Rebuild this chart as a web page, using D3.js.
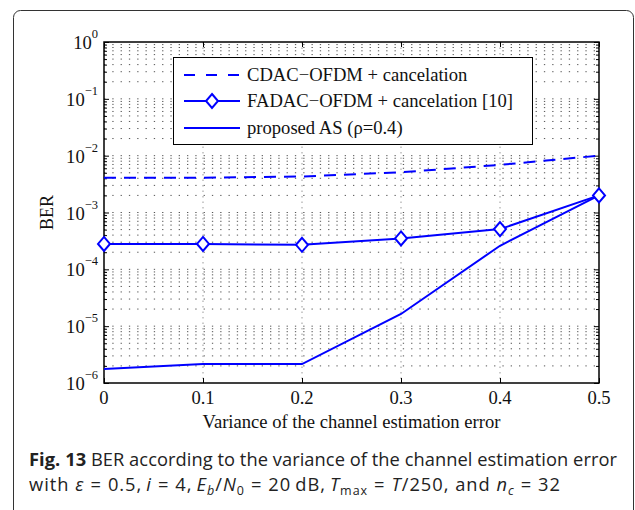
<!DOCTYPE html>
<html>
<head>
<meta charset="utf-8">
<script src="https://cdn.jsdelivr.net/npm/d3@7"></script>
<style>
  html, body { margin: 0; padding: 0; background: #fff; }
  svg { display: block; }
</style>
</head>
<body>
<svg id="chart" width="635" height="510"></svg>
<script>
// Data
const variance = [0, 0.1, 0.2, 0.3, 0.4, 0.5];
const cdacBer = [4.1e-3, 4.1e-3, 4.3e-3, 5.1e-3, 6.9e-3, 1.0e-2];
const fadacBer = [2.8e-4, 2.8e-4, 2.7e-4, 3.5e-4, 5.1e-4, 2.0e-3];
const proposedBer = [1.77e-6, 2.15e-6, 2.15e-6, 1.64e-5, 2.6e-4, 2.0e-3];
const xTicks = [0, 0.1, 0.2, 0.3, 0.4, 0.5];
const yExponents = [0, -1, -2, -3, -4, -5, -6];
const legendLabels = ["CDAC\u2212OFDM + cancelation", "FADAC\u2212OFDM + cancelation [10]", "proposed AS (\u03c1=0.4)"];

const svg = d3.select("#chart");
const serif = "'Liberation Serif', 'Times New Roman', serif";
const sans = "'Open Sans', 'Noto Sans', sans-serif";
const blue = "#0000ff";
const fs = "18.6px";

// Figure frame (only top and left edges show)
svg.append("rect")
  .attr("x", 13.5).attr("y", 10.5)
  .attr("width", 620).attr("height", 520)
  .attr("rx", 7)
  .style("fill", "none")
  .style("stroke", "#333")
  .style("stroke-width", 1);

const plot = { left: 104, right: 599, top: 42, bottom: 383 };

const x = d3.scaleLinear().domain([0, 0.5]).range([plot.left, plot.right]);
const y = d3.scaleLog().domain([1e-6, 1]).range([plot.bottom, plot.top]);

const g = svg.append("g");

// Minor log values
const minors = [];
for (let e = -6; e < 0; e++) {
  for (let m = 2; m <= 9; m++) minors.push(m * Math.pow(10, e));
}
const majors = yExponents.map(e => Math.pow(10, e));

// Grid: horizontal dotted lines at every major/minor log value
g.selectAll(".hgrid")
  .data(majors.concat(minors).filter(v => v > 1e-6 && v < 1))
  .join("line")
  .attr("x1", plot.left).attr("x2", plot.right)
  .attr("y1", d => y(d)).attr("y2", d => y(d))
  .style("stroke", "#555")
  .style("stroke-width", 1)
  .style("stroke-dasharray", "1.3,7");

// Grid: vertical dotted lines
g.selectAll(".vgrid")
  .data(xTicks.slice(1, -1))
  .join("line")
  .attr("x1", d => x(d)).attr("x2", d => x(d))
  .attr("y1", plot.top).attr("y2", plot.bottom)
  .style("stroke", "#999")
  .style("stroke-width", 1)
  .style("stroke-dasharray", "1.5,4");

// Axes box
g.append("rect")
  .attr("x", plot.left).attr("y", plot.top)
  .attr("width", plot.right - plot.left)
  .attr("height", plot.bottom - plot.top)
  .style("fill", "none")
  .style("stroke", "#000")
  .style("stroke-width", 1.5);

// Ticks drawn with d3 axes, inward on all four sides
const axisStyle = sel => {
  sel.select(".domain").remove();
  sel.selectAll("text").remove();
  sel.selectAll("line").style("stroke", "#000").style("stroke-width", 1);
};

g.append("g").attr("transform", `translate(${plot.left},0)`)
  .call(d3.axisRight(y).tickValues(majors).tickSize(5)).call(axisStyle);
g.append("g").attr("transform", `translate(${plot.left},0)`)
  .call(d3.axisRight(y).tickValues(minors).tickSize(3)).call(axisStyle);
g.append("g").attr("transform", `translate(${plot.right},0)`)
  .call(d3.axisLeft(y).tickValues(majors).tickSize(5)).call(axisStyle);
g.append("g").attr("transform", `translate(${plot.right},0)`)
  .call(d3.axisLeft(y).tickValues(minors).tickSize(3)).call(axisStyle);
g.append("g").attr("transform", `translate(0,${plot.bottom})`)
  .call(d3.axisTop(x).tickValues(xTicks).tickSize(5)).call(axisStyle);
g.append("g").attr("transform", `translate(0,${plot.top})`)
  .call(d3.axisBottom(x).tickValues(xTicks).tickSize(5)).call(axisStyle);

// Y tick labels: 10^e
yExponents.forEach(e => {
  const t = g.append("text")
    .attr("x", 98)
    .attr("y", y(Math.pow(10, e)) + 7)
    .attr("text-anchor", "end")
    .style("font-family", serif)
    .style("font-size", fs)
    .style("fill", "#111");
  t.append("tspan").text("10");
  t.append("tspan")
    .attr("dy", -11)
    .style("font-size", "12.5px")
    .text(e === 0 ? "0" : "\u2212" + Math.abs(e));
});

// X tick labels
g.selectAll(".xlab")
  .data(xTicks)
  .join("text")
  .attr("x", d => x(d))
  .attr("y", 404)
  .attr("text-anchor", "middle")
  .style("font-family", serif)
  .style("font-size", fs)
  .style("fill", "#111")
  .text(d => d === 0 ? "0" : d3.format(".1f")(d));

// Axis titles
g.append("text")
  .attr("x", (plot.left + plot.right) / 2)
  .attr("y", 428)
  .attr("text-anchor", "middle")
  .style("font-family", serif)
  .style("font-size", fs)
  .style("fill", "#111")
  .text("Variance of the channel estimation error");

g.append("text")
  .attr("transform", `translate(53,${(plot.top + plot.bottom) / 2}) rotate(-90)`)
  .attr("text-anchor", "middle")
  .style("font-family", serif)
  .style("font-size", "18px")
  .style("fill", "#111")
  .text("BER");

// Series
const lineGen = vals => d3.line()
  .x((d, i) => x(variance[i]))
  .y(d => y(d))(vals);

g.append("path")
  .attr("d", lineGen(cdacBer))
  .style("fill", "none").style("stroke", blue).style("stroke-width", 2)
  .style("stroke-dasharray", "12,8");

g.append("path")
  .attr("d", lineGen(proposedBer))
  .style("fill", "none").style("stroke", blue).style("stroke-width", 2);

g.append("path")
  .attr("d", lineGen(fadacBer))
  .style("fill", "none").style("stroke", blue).style("stroke-width", 2);

const diamond = "M0,-7L6,0L0,7L-6,0Z";
g.selectAll(".marker")
  .data(fadacBer)
  .join("path")
  .attr("transform", (d, i) => `translate(${x(variance[i])},${y(d)})`)
  .attr("d", diamond)
  .style("fill", "#fff")
  .style("stroke", blue)
  .style("stroke-width", 2);

// Legend
const legend = g.append("g");
legend.append("rect")
  .attr("x", 173.5).attr("y", 57.5)
  .attr("width", 359).attr("height", 87)
  .style("fill", "#fff")
  .style("stroke", "#000")
  .style("stroke-width", 1);

const legendY = [75, 101, 128];
legendLabels.forEach((label, i) => {
  const ly = legendY[i];
  legend.append("line")
    .attr("x1", 184).attr("x2", 240)
    .attr("y1", ly).attr("y2", ly)
    .style("stroke", blue).style("stroke-width", 2)
    .style("stroke-dasharray", i === 0 ? "11,11" : null);
  if (i === 1) {
    legend.append("path")
      .attr("transform", `translate(212,${ly})`)
      .attr("d", diamond)
      .style("fill", "#fff").style("stroke", blue).style("stroke-width", 2);
  }
  legend.append("text")
    .attr("x", 247).attr("y", ly + 6)
    .style("font-family", serif)
    .style("font-size", fs)
    .style("fill", "#111")
    .text(label);
});

// Caption
const capSize = "18.3px";
const cap1 = svg.append("text")
  .attr("x", 29).attr("y", 466)
  .attr("textLength", 588)
  .attr("lengthAdjust", "spacing")
  .style("font-family", sans)
  .style("font-size", capSize)
  .style("fill", "#222");
cap1.append("tspan").style("font-weight", "bold").text("Fig. 13");
cap1.append("tspan").text(" BER according to the variance of the channel estimation error");

const cap2 = svg.append("text")
  .attr("x", 29).attr("y", 491)
  .attr("textLength", 531)
  .attr("lengthAdjust", "spacing")
  .style("font-family", sans)
  .style("font-size", capSize)
  .style("fill", "#222");
// [text, italic, subscript, extra space before]
const parts = [
  ["with ", false], ["\u03b5", true], ["=", false, false, 6], ["0.5,", false, false, 6],
  ["i", true, false, 4], ["=", false, false, 6], ["4,", false, false, 6],
  ["E", true, false, 4], ["b", true, true], ["/", false], ["N", true], ["0", false, true],
  ["=", false, false, 6], ["20\u2009dB,", false, false, 6],
  ["T", true, false, 4], ["max", false, true], ["=", false, false, 6], ["T", true, false, 6],
  ["/250, and ", false], ["n", true], ["c", true, true], ["=", false, false, 6], ["32", false, false, 6]
];
let shifted = false;
parts.forEach(([txt, italic, sub, gap]) => {
  const ts = cap2.append("tspan")
    .style("font-style", italic ? "italic" : "normal")
    .text(txt);
  if (gap) ts.attr("dx", gap);
  if (sub) {
    ts.style("font-size", "12.5px");
    if (!shifted) { ts.attr("dy", 4); shifted = true; }
  } else if (shifted) {
    ts.attr("dy", -4); shifted = false;
  }
});
</script>
</body>
</html>
